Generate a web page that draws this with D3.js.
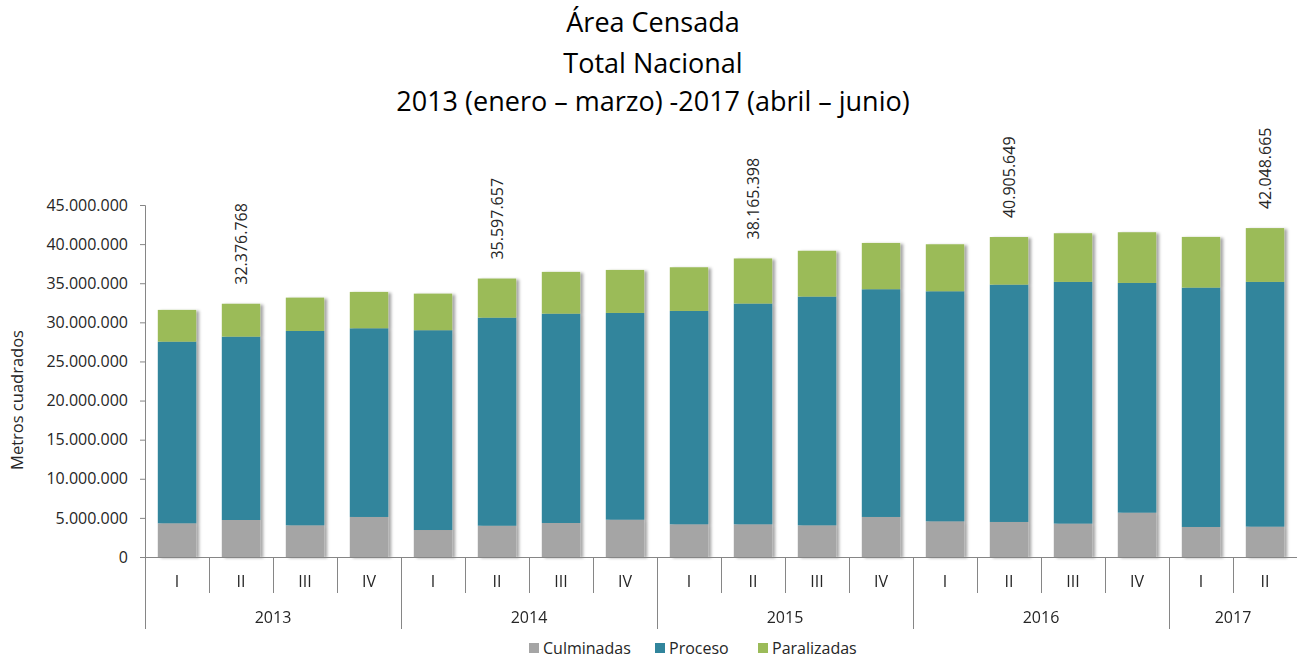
<!DOCTYPE html>
<html>
<head>
<meta charset="utf-8">
<script src="https://cdn.jsdelivr.net/npm/d3@7"></script>
<style>
  html, body { margin: 0; padding: 0; background: #fff; }
  svg { display: block; font-family: "Open Sans", "Noto Sans", sans-serif; }
  text { -webkit-font-smoothing: antialiased; }
</style>
</head>
<body>
<svg id="chart" width="1297" height="658"></svg>
<script>
// ---- Data ----
const titleLines = ["Área Censada", "Total Nacional", "2013 (enero – marzo) -2017 (abril – junio)"];
const years = ["2013", "2014", "2015", "2016", "2017"];
const quarters = ["I","II","III","IV","I","II","III","IV","I","II","III","IV","I","II","III","IV","I","II"];
const quarterYear = ["2013","2013","2013","2013","2014","2014","2014","2014","2015","2015","2015","2015","2016","2016","2016","2016","2017","2017"];
const seriesNames = ["Culminadas", "Proceso", "Paralizadas"];
const culminadas = [4310000, 4730000, 4050000, 5120000, 3450000, 4000000, 4350000, 4770000, 4180000, 4180000, 4050000, 5120000, 4560000, 4480000, 4270000, 5670000, 3840000, 3880000];
const proceso    = [23220000, 23440000, 24850000, 24120000, 25540000, 26600000, 26760000, 26430000, 27280000, 28220000, 29240000, 29110000, 29410000, 30340000, 30900000, 29370000, 30600000, 31290000];
const paralizadas= [4060000, 4206768, 4260000, 4650000, 4680000, 4997657, 5340000, 5500000, 5580000, 5765398, 5860000, 5920000, 6010000, 6085649, 6220000, 6480000, 6480000, 6878665];
const labelIndex = [1, 5, 9, 13, 17];
const labelValue = [32376768, 35597657, 38165398, 40905649, 42048665];
const yTicks = [0, 5000000, 10000000, 15000000, 20000000, 25000000, 30000000, 35000000, 40000000, 45000000];
const colors = ["#a5a5a5", "#31859c", "#9bbb59"];

// ---- Setup ----
const svg = d3.select("#chart");
const mLeft = 145, mRight = 1297, mTop = 205, mBottom = 557;
const locale = d3.formatLocale({decimal: ",", thousands: ".", grouping: [3], currency: ["", ""]});
const fmt = locale.format(",.0f");
const textColor = "#262626";

const defs = svg.append("defs");
const f = defs.append("filter").attr("id", "shadow").attr("x", "-20%").attr("y", "-5%").attr("width", "150%").attr("height", "110%");
f.append("feDropShadow").attr("dx", 3).attr("dy", 1).attr("stdDeviation", 1.8).attr("flood-color", "#000").attr("flood-opacity", 0.35);

const x = d3.scaleBand().domain(d3.range(quarters.length)).range([mLeft, mRight]).paddingInner(0.4).paddingOuter(0.2);
const y = d3.scaleLinear().domain([0, 45000000]).range([mBottom, mTop]);

// Title
svg.append("g").selectAll("text").data(titleLines).join("text")
  .attr("x", 653).attr("y", (d, i) => [32, 73, 111][i])
  .attr("text-anchor", "middle").attr("font-size", 27).attr("fill", "#000")
  .text(d => d);

// Stacked data
const rows = quarters.map((q, i) => ({Culminadas: culminadas[i], Proceso: proceso[i], Paralizadas: paralizadas[i], i}));
const stack = d3.stack().keys(seriesNames)(rows);

// Bars
const barsG = svg.append("g");
rows.forEach((r, i) => {
  const g = barsG.append("g").attr("filter", "url(#shadow)");
  stack.forEach((s, k) => {
    const d = s[i];
    g.append("rect")
      .attr("x", x(i)).attr("width", x.bandwidth())
      .attr("y", y(d[1])).attr("height", y(d[0]) - y(d[1]))
      .attr("fill", colors[k]);
  });
});

// Y axis
const yAxis = d3.axisLeft(y).tickValues(yTicks).tickSize(5).tickPadding(12).tickFormat(d => fmt(d));
const yg = svg.append("g").attr("transform", `translate(${mLeft},0)`).call(yAxis);
yg.select(".domain").attr("stroke", "#868686");
yg.selectAll(".tick line").attr("stroke", "#868686");
yg.selectAll(".tick text").attr("font-size", 16).attr("fill", textColor).attr("font-family", "'Open Sans', sans-serif");

svg.append("text")
  .attr("transform", `translate(23,400) rotate(-90)`)
  .attr("text-anchor", "middle").attr("font-size", 16.5).attr("fill", textColor)
  .text("Metros cuadrados");

// X axis (two-level)
const xg = svg.append("g").attr("opacity", 0.999);
xg.append("line").attr("x1", mLeft).attr("x2", mRight).attr("y1", mBottom + 0.5).attr("y2", mBottom + 0.5).attr("stroke", "#868686");
const step = x.step();
const boundaries = d3.range(quarters.length + 1).map(i => x(0) - x.paddingOuter() * step + i * step);
boundaries.forEach((bx, i) => {
  const isYear = i === 0 || i === quarters.length || quarterYear[i] !== quarterYear[i - 1];
  xg.append("line")
    .attr("x1", Math.round(bx) + 0.5).attr("x2", Math.round(bx) + 0.5)
    .attr("y1", mBottom).attr("y2", isYear ? 629 : 593)
    .attr("stroke", "#868686");
});
xg.selectAll("text.q").data(quarters).join("text").attr("class", "q")
  .attr("x", (d, i) => x(i) + x.bandwidth() / 2).attr("y", 587)
  .attr("text-anchor", "middle").attr("font-size", 16).attr("fill", textColor)
  .text(d => d);
years.forEach(yr => {
  const idx = d3.range(quarters.length).filter(i => quarterYear[i] === yr);
  const cx = (x(idx[0]) + x(idx[idx.length - 1]) + x.bandwidth()) / 2;
  xg.append("text").attr("x", cx).attr("y", 623)
    .attr("text-anchor", "middle").attr("font-size", 16).attr("fill", textColor).text(yr);
});

// Data labels
labelIndex.forEach((idx, k) => {
  const total = culminadas[idx] + proceso[idx] + paralizadas[idx];
  const lx = x(idx) + x.bandwidth() / 2 + 5.5;
  const ly = y(total) - 19;
  svg.append("text")
    .attr("transform", `translate(${lx},${ly}) rotate(-90)`)
    .attr("text-anchor", "start").attr("font-size", 16).attr("fill", textColor)
    .text(fmt(labelValue[k]));
});

// Legend
const legendX = [529, 655, 758];
const lg = svg.append("g");
seriesNames.forEach((n, k) => {
  lg.append("rect").attr("x", legendX[k]).attr("y", 643).attr("width", 10).attr("height", 10).attr("fill", colors[k]);
  lg.append("text").attr("x", legendX[k] + 14).attr("y", 654).attr("font-size", 16).attr("fill", textColor).text(n);
});
</script>
</body>
</html>
